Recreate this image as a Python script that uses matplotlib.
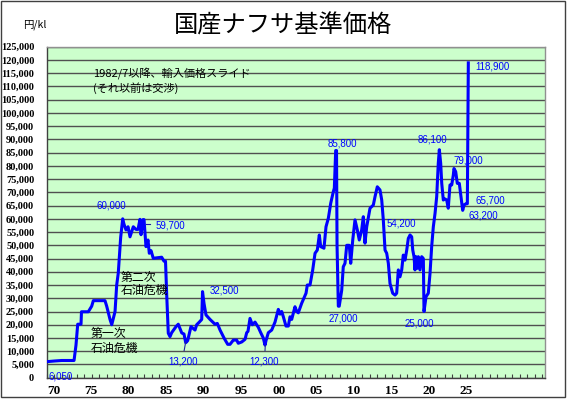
import matplotlib
matplotlib.use("Agg")
import matplotlib.pyplot as plt
from matplotlib.patches import Rectangle
from matplotlib.ticker import FixedLocator, MultipleLocator

plt.rcParams['font.family'] = ['Noto Sans CJK JP', 'DejaVu Sans']

# ---- data (year, yen per kl) ----
years = [1970.0, 1971.0, 1972.0, 1973.64, 1973.9, 1974.13, 1974.57, 1974.63, 1975.54, 1975.77,
         1975.99, 1976.21, 1977.76, 1977.99, 1978.43, 1978.66, 1979.10, 1979.32, 1979.53, 1979.85,
         1980.12, 1980.29, 1980.56, 1980.83, 1981.09, 1981.53, 1981.89, 1982.16, 1982.42, 1982.56,
         1982.82, 1982.96, 1983.22, 1983.49, 1983.66, 1983.89, 1984.19, 1985.31, 1985.62, 1985.82,
         1985.98, 1986.19, 1986.42, 1986.64, 1987.22, 1987.52, 1987.98, 1988.28, 1988.51, 1988.77,
         1989.21, 1989.75, 1989.97, 1990.32, 1990.64, 1990.75, 1990.95, 1991.21, 1991.75, 1992.41,
         1992.72, 1993.08, 1993.61, 1994.10, 1994.41, 1994.85, 1995.30, 1995.51, 1995.97, 1996.41,
         1996.63, 1996.80, 1997.07, 1997.38, 1997.74, 1998.18, 1998.50, 1998.84, 1999.07, 1999.20,
         1999.51, 1999.96, 2000.40, 2000.84, 2001.07, 2001.29, 2001.51, 2001.86, 2002.17, 2002.40,
         2002.62, 2003.06, 2003.29, 2003.50, 2003.95, 2004.53, 2004.70, 2005.06, 2005.42, 2005.73,
         2006.03, 2006.30, 2006.48, 2006.92, 2007.19, 2007.50, 2007.82, 2008.16, 2008.30, 2008.48,
         2008.59, 2008.66, 2008.83, 2008.95, 2009.28, 2009.49, 2009.72, 2009.95, 2010.29, 2010.48,
         2010.75, 2011.05, 2011.36, 2011.62, 2011.94, 2012.16, 2012.38, 2012.61, 2013.05, 2013.49,
         2013.72, 2014.02, 2014.38, 2014.61, 2014.82, 2015.05, 2015.27, 2015.49, 2015.71, 2016.07,
         2016.38, 2016.60, 2016.82, 2017.04, 2017.27, 2017.48, 2017.71, 2017.94, 2018.15, 2018.38,
         2018.60, 2018.74, 2018.91, 2019.04, 2019.17, 2019.35, 2019.48, 2019.71, 2019.93, 2020.15,
         2020.24, 2020.51, 2020.81, 2021.04, 2021.26, 2021.48, 2021.71, 2021.93, 2022.14, 2022.28,
         2022.46, 2022.60, 2022.81, 2023.04, 2023.26, 2023.47, 2023.70, 2023.93, 2024.14, 2024.23,
         2024.46, 2024.67, 2024.94, 2025.13, 2025.26, 2025.39, 2025.57, 2025.83, 2026.01, 2026.14]
prices = [6050, 6300, 6500, 6500, 12300, 20200, 20200, 24900, 24900, 26000,
          27000, 29100, 29100, 27000, 22000, 20000, 25000, 35000, 39500, 53000,
          60000, 58000, 55800, 57000, 53200, 57000, 56000, 56000, 59800, 54000,
          59700, 59700, 49500, 52000, 47000, 48000, 45100, 45500, 44000, 44000,
          31200, 16800, 15500, 17000, 19300, 20200, 16900, 16500, 13200, 14000,
          19300, 18000, 20000, 21000, 22000, 32500, 28000, 23700, 22000, 20200,
          20500, 18000, 15000, 12600, 12600, 14200, 14200, 13000, 13500, 14500,
          17000, 17500, 22400, 20000, 21000, 19000, 17000, 15000, 12300, 14000,
          17000, 18000, 21000, 25800, 24000, 25000, 23000, 19500, 19500, 23000,
          22000, 26800, 25000, 24500, 28100, 31900, 35000, 35000, 40700, 47000,
          48200, 53900, 49500, 48900, 57000, 60200, 65900, 70200, 71600, 85800,
          85800, 50000, 27000, 27000, 33000, 41900, 43200, 50000, 50000, 43200,
          52000, 59600, 55800, 52000, 55800, 60800, 50800, 57000, 64000, 65200,
          68400, 72100, 70900, 67100, 59600, 48200, 47000, 43200, 35600, 31900,
          31200, 31900, 40700, 38100, 40700, 46300, 44400, 48200, 52600, 53900,
          53200, 48200, 45700, 40700, 45700, 41300, 45700, 40700, 45700, 45000,
          25000, 30600, 31900, 39400, 49500, 57000, 62100, 68400, 81000, 86100,
          81000, 73400, 67100, 67500, 67100, 64000, 72800, 72800, 76500, 79000,
          77800, 73400, 73400, 69000, 65900, 63200, 65200, 65700, 65700, 118900]

label_years = [1970, 1975, 1980, 1985, 1990, 1995, 2000, 2005, 2010, 2015, 2020, 2025]
label_texts = ['70', '75', '80', '85', '90', '95', '00', '05', '10', '15', '20', '25']
y_ticks = list(range(0, 125001, 5000))

# value annotations: (text, x, y, ha)
value_labels = [
    ("6,050", 1970.2, 400, 'left'),
    ("60,000", 1978.65, 65200, 'center'),
    ("59,700", 1984.43, 57400, 'left'),
    ("32,500", 1991.65, 33100, 'left'),
    ("13,200", 1988.2, 6300, 'center'),
    ("12,300", 1998.9, 6300, 'center'),
    ("85,800", 2007.4, 88500, 'left'),
    ("27,000", 2009.5, 22200, 'center'),
    ("54,200", 2015.2, 58300, 'left'),
    ("25,000", 2019.6, 20300, 'center'),
    ("86,100", 2021.4, 90000, 'center'),
    ("79,000", 2024.14, 82000, 'left'),
    ("65,700", 2027.03, 66800, 'left'),
    ("63,200", 2026.14, 61200, 'left'),
    ("118,900", 2027.03, 117400, 'left'),
]
# leader lines: ((x0, y0), (x1, y1))
leaders = [((1983.2, 57900), (1983.75, 57900)),
           ((1988.3, 10200), (1988.5, 13400)),
           ((1999.07, 10200), (1999.1, 12200))]

# black notes: (text, x, y, size)
notes = [
    ("1982/7以降、輸入価格スライド", 1976.2, 115000, 8),
    ("(それ以前は交渉)", 1976.2, 109300, 8),
    ("第二次", 1979.9, 38000, 8.6),
    ("石油危機", 1979.9, 33100, 8.6),
    ("第一次", 1975.86, 16800, 8.6),
    ("石油危機", 1975.86, 11100, 8.6),
]

W, H = 567, 401
fig = plt.figure(figsize=(W / 100, H / 100), dpi=100)
fig.patch.set_facecolor('white')
ax = fig.add_axes([46.7 / W, 1 - 377.7 / H, (545 - 46.7) / W, (377.7 - 46.7) / H])
ax.set_facecolor('#CCFFCC')

ax.plot(years, prices, color='#0000FF', lw=2.2, solid_joinstyle='round', zorder=3)

ax.set_xlim(1970.0, 2036.35)
ax.set_ylim(0, 125000)

# grid
ax.set_yticks(y_ticks)
ax.set_yticklabels([f"{v:,}" for v in y_ticks])
ax.yaxis.grid(True, color='#505050', lw=1.0, zorder=1)
ax.set_axisbelow(True)
ax.tick_params(axis='y', length=0, pad=9)
for lab in ax.get_yticklabels():
    lab.set_fontfamily('Liberation Serif')
    lab.set_fontweight('bold')
    lab.set_fontsize(7.5)

ax.xaxis.set_major_locator(FixedLocator([y + 0.9 for y in label_years]))
ax.set_xticklabels(label_texts)
ax.xaxis.set_minor_locator(MultipleLocator(1))
ax.tick_params(axis='x', which='major', length=0, pad=5)
ax.tick_params(axis='x', which='minor', direction='in', length=3, color='#404040', width=0.8)
for lab in ax.get_xticklabels():
    lab.set_fontfamily('Liberation Serif')
    lab.set_fontweight('bold')
    lab.set_fontsize(9.5)

for s in ['left', 'bottom']:
    ax.spines[s].set_color('#404040')
    ax.spines[s].set_linewidth(1.0)
for s in ['top', 'right']:
    ax.spines[s].set_color('#909090')
    ax.spines[s].set_linewidth(1.0)

for txt, x, y, ha in value_labels:
    ax.text(x, y, txt, ha=ha, va='center', color='#0000FF', fontsize=7,
            family=['Liberation Sans', 'DejaVu Sans'], zorder=4, clip_on=False)
for (x0, y0), (x1, y1) in leaders:
    ax.plot([x0, x1], [y0, y1], color='#2020A0', lw=0.8, zorder=4)
for txt, x, y, sz in notes:
    ax.text(x, y, txt, ha='left', va='center', color='black', fontsize=sz, zorder=4)

fig.text(283 / W, 1 - 26 / H, "国産ナフサ基準価格", ha='center', va='center', fontsize=17.5, color='black')
fig.text(23.3 / W, 1 - 25 / H, "円/kl", ha='left', va='center', fontsize=7.5, color='black')

fig.add_artist(Rectangle((1 / W, 4 / H), 564 / W, 396 / H, transform=fig.transFigure,
                         fill=False, ec='#404040', lw=1.0))

fig.savefig('out.png', dpi=100)
